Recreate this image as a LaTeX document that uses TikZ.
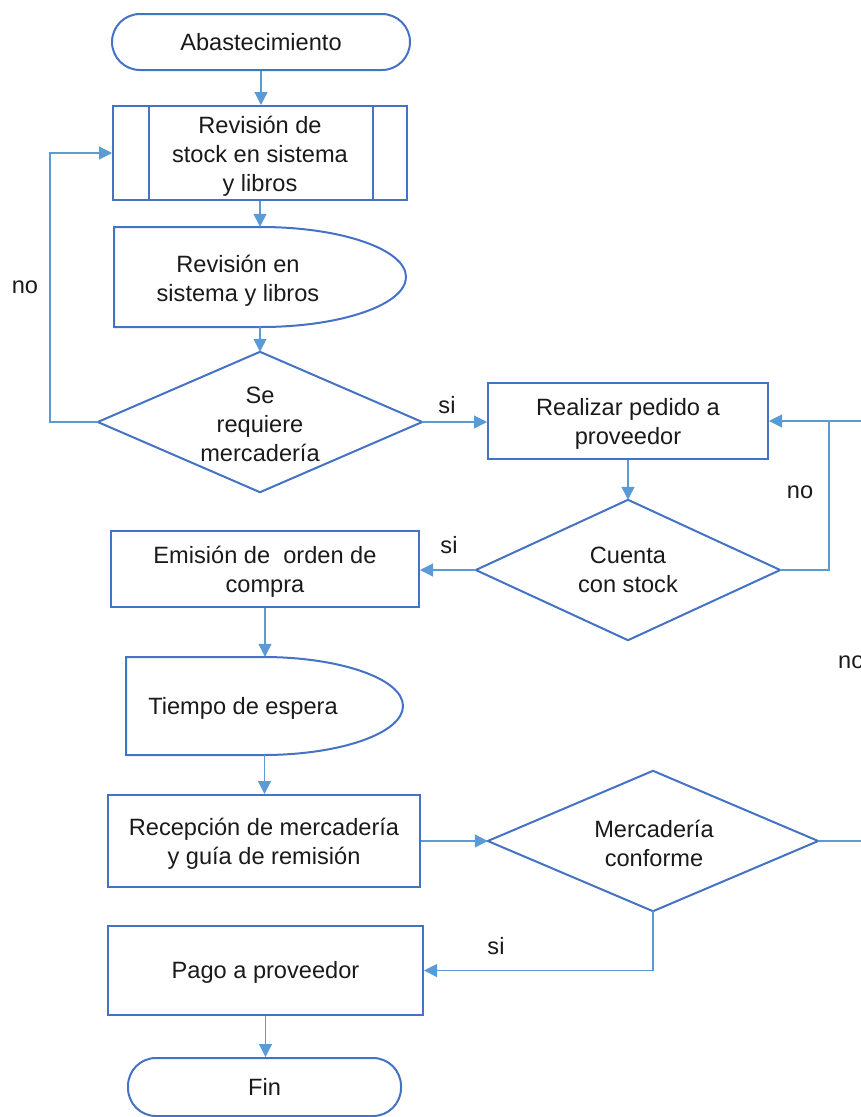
\documentclass[tikz,border=0pt]{standalone}
\usepackage{fontspec}
\setmainfont{Liberation Sans}
\usetikzlibrary{arrows.meta,calc}
\definecolor{boxblue}{HTML}{4472C4}
\definecolor{lineblue}{HTML}{5B9BD5}
\definecolor{txt}{HTML}{1A1A1A}
\tikzset{
  outline/.style={draw=boxblue, line width=2pt, line join=miter},
  box/.style={outline, rectangle, align=center, inner sep=0pt, text=txt},
  term/.style={box, rounded corners=28pt},
  frame/.style={rectangle, align=center, inner sep=0pt, text=txt},
  conn/.style={draw=lineblue, line width=1.2pt, -{Triangle[length=13pt,width=13pt]}},
  plain/.style={draw=lineblue, line width=1.2pt},
  lbl/.style={text=txt, inner sep=0pt, align=center}
}
\begin{document}
\begin{tikzpicture}[x=1pt, y=-1pt, font=\fontsize{23.6}{29}\selectfont]
\useasboundingbox (0,0) rectangle (860,1117);
% nodes
\node[term, minimum width=298pt, minimum height=56pt] (a) at (261,42) {Abastecimiento};
\node[box, minimum width=294pt, minimum height=94pt] (p) at (260,153) {};
\node[lbl] (pt) at ([yshift=-3pt]p.center) {Revisión de\\stock en sistema\\y libros};
\draw[outline] ([xshift=37pt]p.north west) -- ([xshift=37pt]p.south west);
\draw[outline] ([xshift=-35pt]p.north east) -- ([xshift=-35pt]p.south east);
\node[frame, minimum width=292pt, minimum height=100pt] (d1) at (260,277) {};
\draw[outline] (114,227) -- (261,227) .. controls (341.1,227) and (406,249.4) .. (406,277)
  .. controls (406,304.6) and (341.1,327) .. (261,327) -- (114,327) -- cycle;
\node[lbl] (d1t) at (238,281) {Revisión en\\sistema y libros};
\node[frame, minimum width=324pt, minimum height=140pt] (q1) at (260,422) {};
\node[lbl] (q1t) at (260,424) {Se\\requiere\\mercadería};
\draw[outline] (q1.north) -- (q1.east) -- (q1.south) -- (q1.west) -- cycle;
\node[box, minimum width=280pt, minimum height=76pt] (r1) at (628,421) {};
\node[lbl] (r1t) at ([yshift=-3pt]r1.center) {Realizar pedido a\\proveedor};
\node[frame, minimum width=304pt, minimum height=140pt] (q2) at (628,570) {Cuenta\\con stock};
\draw[outline] (q2.north) -- (q2.east) -- (q2.south) -- (q2.west) -- cycle;
\node[box, minimum width=308pt, minimum height=76pt] (e1) at (265,569) {};
\node[lbl] (e1t) at ([yshift=-3pt]e1.center) {Emisión de\ \ orden de\\compra};
\node[frame, minimum width=277pt, minimum height=98pt] (d2) at (264.5,706) {};
\draw[outline] (126,657) -- (263,657) .. controls (340.3,657) and (403,678.9) .. (403,706)
  .. controls (403,733.1) and (340.3,755) .. (263,755) -- (126,755) -- cycle;
\node[lbl] (d2t) at (243,708) {Tiempo de espera};
\node[box, minimum width=312pt, minimum height=92pt] (rc) at (264,841) {};
\node[lbl] (rct) at ([yshift=-3pt]rc.center) {Recepción de mercadería\\y guía de remisión};
\node[frame, minimum width=330pt, minimum height=140pt] (q3) at (653,841) {};
\node[lbl] (q3t) at (654,843) {Mercadería\\conforme};
\draw[outline] (q3.north) -- (q3.east) -- (q3.south) -- (q3.west) -- cycle;
\node[box, minimum width=315pt, minimum height=89pt] (pg) at (265.5,970.5) {};
\node[lbl] (pgt) at ([yshift=-2pt]pg.center) {Pago a proveedor};
\node[term, minimum width=273pt, minimum height=58pt] (fin) at (264.5,1087) {Fin};
% coordinates
\coordinate (k0) at (50,422);
\coordinate (k1) at (829,421);
\coordinate (k1e) at (862,421);
\coordinate (k2) at (862,841);
% connectors
\draw[conn] (a.south) -- (a.south |- p.north);
\draw[conn] (p.south) -- (p.south |- d1.north);
\draw[conn] (d1.south) -- (d1.south |- q1.north);
\draw[conn] (q1.west) -- (k0) |- (p.west);
\draw[conn] (q1.east) -- (q1.east -| r1.west);
\draw[conn] (r1.south) -- (r1.south |- q2.north);
\draw[conn] (q2.east) -| (k1) -- (r1.east);
\draw[plain] (k1) -- (k1e);
\draw[conn] (q2.west) -- (q2.west -| e1.east);
\draw[conn] (e1.south) -- (e1.south |- d2.north);
\draw[conn] (d2.south) -- (d2.south |- rc.north);
\draw[conn] (rc.east) -- (rc.east -| q3.west);
\draw[plain] (q3.east) -- (k2);
\draw[conn] (q3.south) |- (pg.east);
\draw[conn] (pg.south) -- (pg.south |- fin.north);
% labels
\node[lbl] (l1) at (25,287) {no};
\node[lbl] (l2) at (447,405) {si};
\node[lbl] (l3) at (800,492) {no};
\node[lbl] (l4) at (449,545) {si};
\node[lbl, anchor=west] (l5) at (838,662) {no};
\node[lbl] (l6) at (496,946) {si};
\end{tikzpicture}
\end{document}
